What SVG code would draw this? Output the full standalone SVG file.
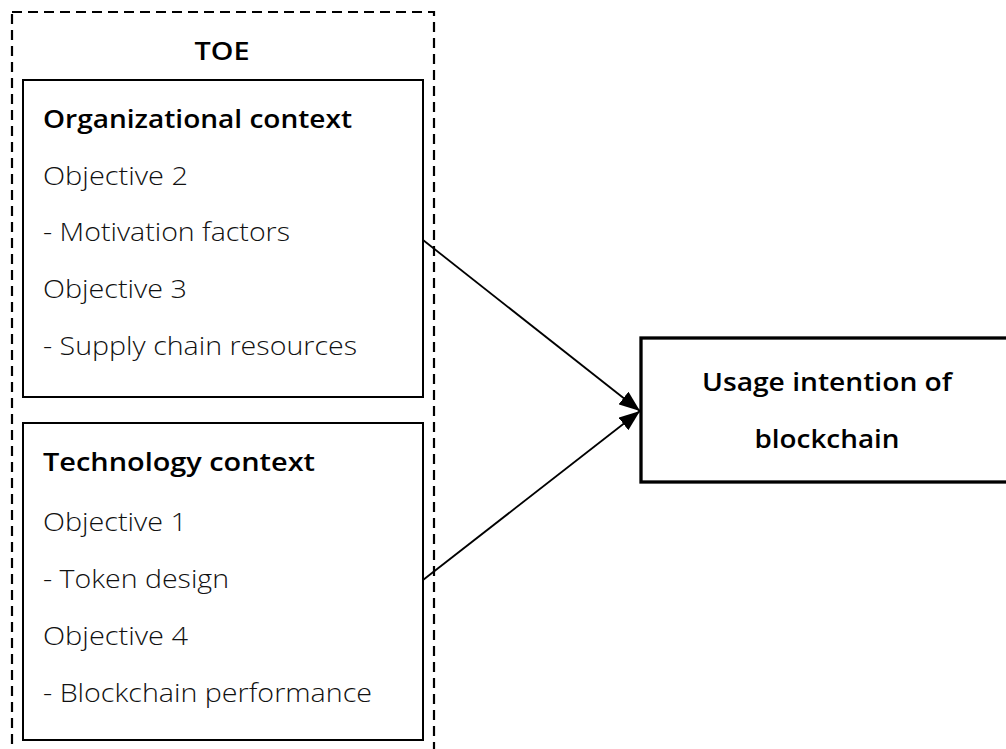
<svg xmlns="http://www.w3.org/2000/svg" width="1006" height="749" viewBox="0 0 1006 749">
<style>
.bg{fill:#fff}
.dash{fill:none;stroke:#000;stroke-width:2.2;stroke-dasharray:10 6}
.box{fill:#fff;stroke:#000;stroke-width:2}
.bigbox{fill:#fff;stroke:#000;stroke-width:3.3}
.t{font-family:"Open Sans","Noto Sans","Liberation Sans",sans-serif;font-size:26px;fill:#111;font-weight:300}
.b{font-family:"Open Sans","Noto Sans","Liberation Sans",sans-serif;font-size:26px;fill:#000;font-weight:600}
.m{font-family:"Open Sans","Noto Sans","Liberation Sans",sans-serif;font-size:26px;fill:#000;font-weight:600}
.conn{stroke:#000;stroke-width:1.8;fill:none}
</style>
<defs>
<marker id="arr" markerUnits="userSpaceOnUse" markerWidth="22" markerHeight="16" refX="21" refY="8" orient="auto">
<path d="M0,0 L21,8 L0,16 z" fill="#000"/>
</marker>
</defs>
<rect class="bg" x="0" y="0" width="1006" height="749"/>
<g id="toe">
<rect class="dash" x="12" y="12" width="422" height="760"/>
<text class="m" x="222" y="60" text-anchor="middle" textLength="55" lengthAdjust="spacingAndGlyphs">TOE</text>
</g>
<g id="organizational">
<rect class="box" x="23" y="80" width="400" height="317"/>
<text class="b" x="43" y="128" textLength="309" lengthAdjust="spacingAndGlyphs">Organizational context</text>
<text class="t" x="43" y="185" textLength="145" lengthAdjust="spacingAndGlyphs">Objective 2</text>
<text class="t" x="43" y="241" textLength="247" lengthAdjust="spacingAndGlyphs">- Motivation factors</text>
<text class="t" x="43" y="298" textLength="144" lengthAdjust="spacingAndGlyphs">Objective 3</text>
<text class="t" x="43" y="355" textLength="314" lengthAdjust="spacingAndGlyphs">- Supply chain resources</text>
</g>
<g id="technology">
<rect class="box" x="23" y="423" width="400" height="317"/>
<text class="b" x="43" y="471" textLength="272" lengthAdjust="spacingAndGlyphs">Technology context</text>
<text class="t" x="43" y="531" textLength="144" lengthAdjust="spacingAndGlyphs">Objective 1</text>
<text class="t" x="43" y="588" textLength="186" lengthAdjust="spacingAndGlyphs">- Token design</text>
<text class="t" x="43" y="645" textLength="145" lengthAdjust="spacingAndGlyphs">Objective 4</text>
<text class="t" x="43" y="702" textLength="329" lengthAdjust="spacingAndGlyphs">- Blockchain performance</text>
</g>
<g id="usage">
<rect class="bigbox" x="641" y="338" width="380" height="144"/>
<text class="m" x="827" y="391" text-anchor="middle" textLength="250" lengthAdjust="spacingAndGlyphs">Usage intention of</text>
<text class="m" x="827" y="448" text-anchor="middle" textLength="145" lengthAdjust="spacingAndGlyphs">blockchain</text>
</g>
<g id="connectors">
<line class="conn" x1="423" y1="240" x2="640" y2="411" marker-end="url(#arr)"/>
<line class="conn" x1="423" y1="580" x2="640" y2="411" marker-end="url(#arr)"/>
</g>
</svg>
